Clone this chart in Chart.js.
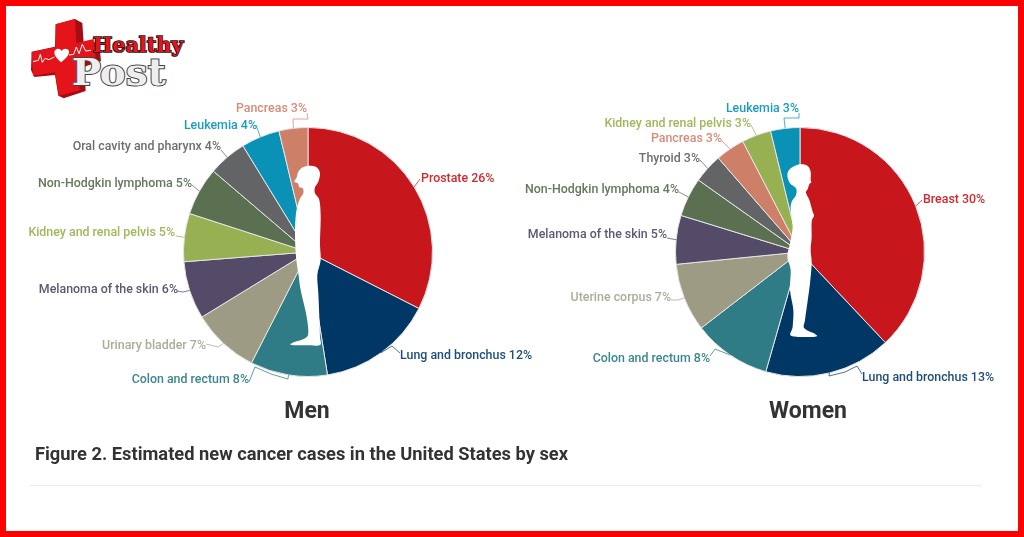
<!DOCTYPE html>
<html>
<head>
<meta charset="utf-8">
<title>Estimated new cancer cases</title>
<script src="https://cdn.jsdelivr.net/npm/chart.js@4/dist/chart.umd.min.js"></script>
<style>
  html, body { margin: 0; padding: 0; background: #fff; }
  #page { position: relative; width: 1024px; height: 537px; overflow: hidden; background: #fff; font-family: Roboto, sans-serif; }
  #frame { position: absolute; inset: 0; border: 6px solid #ff0000; box-sizing: border-box; pointer-events: none; }
  canvas { position: absolute; top: 0; }
  #menChart { left: 0; }
  #womenChart { left: 520px; }
  .sex { position: absolute; top: 397px; font-weight: 700; font-size: 23px; color: #333; transform: translateX(-50%); }
  #caption { position: absolute; left: 35px; top: 443px; font-weight: 700; font-size: 18.3px; color: #333; white-space: nowrap; }
  #rule { position: absolute; left: 30px; top: 485px; width: 952px; height: 1px; background: #ececec; }
  #logo { position: absolute; left: 25px; top: 15px; }
</style>
</head>
<body>
<div id="page">
  <svg id="logo" width="165" height="85" viewBox="0 0 495 255">
    <polygon fill="#a50d12" points="92,28 150,12 172,24 176,85 222,80 228,138 178,155 182,228 116,250 100,242 90,180 28,186 18,165 20,110 90,95"/>
    <polygon fill="#e5141b" points="92,28 150,12 154,84 206,72 212,130 158,146 164,226 102,242 90,172 24,182 20,112 92,96"/>
    <polyline fill="none" stroke="#fff" stroke-width="3" points="24,140 40,136 46,118 52,142 60,130 72,134 88,126"/>
    <path fill="#fff" d="M108,142 C92,128 84,116 90,106 C96,98 106,100 110,108 C116,98 128,100 132,108 C134,118 122,132 108,142 Z"/>
    <polyline fill="none" stroke="#fff" stroke-width="3" points="132,120 146,118 154,96 162,116 172,88 182,108 198,106"/>
    <text x="203" y="111" font-family="DejaVu Serif" font-weight="700" font-size="62" fill="#e5141b" stroke="#111" stroke-width="5" paint-order="stroke" textLength="272" lengthAdjust="spacingAndGlyphs">Healthy</text>
    <text x="140" y="210" font-family="DejaVu Serif" font-weight="700" font-size="112" fill="#eeeeee" stroke="#444" stroke-width="6" paint-order="stroke" textLength="282" lengthAdjust="spacingAndGlyphs">Post</text>
  </svg>
  <canvas id="menChart" width="540" height="537"></canvas>
  <canvas id="womenChart" width="504" height="537"></canvas>
  <div class="sex" style="left:307px">Men</div>
  <div class="sex" style="left:808px">Women</div>
  <div id="caption">Figure 2. Estimated new cancer cases in the United States by sex</div>
  <div id="rule"></div>
  <div id="frame"></div>
</div>
<script>
// Men: share of estimated new cases, in percent
const menCategories = ['Prostate', 'Lung and bronchus', 'Colon and rectum', 'Urinary bladder', 'Melanoma of the skin',
  'Kidney and renal pelvis', 'Non-Hodgkin lymphoma', 'Oral cavity and pharynx', 'Leukemia', 'Pancreas'];
const menValues = [26, 12, 8, 7, 6, 5, 5, 4, 4, 3];

// Women: share of estimated new cases, in percent
const womenCategories = ['Breast', 'Lung and bronchus', 'Colon and rectum', 'Uterine corpus', 'Melanoma of the skin',
  'Non-Hodgkin lymphoma', 'Thyroid', 'Pancreas', 'Kidney and renal pelvis', 'Leukemia'];
const womenValues = [30, 13, 8, 7, 5, 4, 3, 3, 3, 3];

// One colour per cancer type, slice and label text
const sliceColors = {
  'Prostate': '#c8161d', 'Breast': '#c8161d', 'Lung and bronchus': '#003764', 'Colon and rectum': '#2f7c87',
  'Urinary bladder': '#9e9b84', 'Uterine corpus': '#9e9b84', 'Melanoma of the skin': '#544b68',
  'Kidney and renal pelvis': '#97b052', 'Non-Hodgkin lymphoma': '#5a7050', 'Oral cavity and pharynx': '#626466',
  'Thyroid': '#626466', 'Leukemia': '#0a92b6', 'Pancreas': '#ce7f68'
};
const textColors = {
  'Prostate': '#d02a30', 'Breast': '#d02a30', 'Lung and bronchus': '#1f4d7a', 'Colon and rectum': '#3a8791',
  'Urinary bladder': '#aeac98', 'Uterine corpus': '#aeac98', 'Melanoma of the skin': '#5f5774',
  'Kidney and renal pelvis': '#a0b85c', 'Non-Hodgkin lymphoma': '#64795a', 'Oral cavity and pharynx': '#6c6e70',
  'Thyroid': '#6c6e70', 'Leukemia': '#1c9cc0', 'Pancreas': '#d68d78'
};

// Where each label sits on the page: [x, y, align], then the bends of its leader line
const menLabelSpots = [
  [421, 178, 'left'], [400, 355, 'left'], [249, 379, 'right'], [206, 345, 'right'], [178, 289, 'right'],
  [175, 232, 'right'], [192, 183, 'right'], [221, 146, 'right'], [257, 125, 'right'], [307, 108, 'right']
];
const menLeaderBends = [
  [[420, 179]], [[400, 353], [392, 346]], [[249, 382], [255, 367], [271, 374], [288, 379]], [[206, 344], [218, 347]],
  [[177, 291], [183, 292]], [[176, 236]], [[192, 185]], [[221, 150]], [[256, 125]], [[307, 113], [308, 119], [293, 119]]
];
const womenLabelSpots = [
  [923, 199, 'left'], [862, 377, 'left'], [710, 358, 'right'], [671, 297, 'right'], [667, 234, 'right'],
  [679, 189, 'right'], [700, 158, 'right'], [722, 138, 'right'], [751, 123, 'right'], [799, 108, 'right']
];
const womenLeaderBends = [
  [[922, 200]], [[862, 374], [857, 366], [845, 372], [829, 376]], [[710, 356], [715, 349]], [[671, 300], [678, 300]],
  [[667, 238]], [[679, 192]], [[700, 160]], [[722, 141]], [[751, 125]], [[799, 113], [799, 118], [784, 118]]
];

// Standing figures laid over the middle of each pie
const menFigure = [[118, 47], [140, 52], [150, 70], [145, 95], [135, 112], [135, 130], [148, 150], [152, 200], [150, 280],
  [152, 330], [142, 375], [145, 430], [148, 500], [150, 560], [150, 585], [110, 586], [65, 585], [68, 578], [105, 565],
  [115, 545], [108, 490], [92, 420], [85, 370], [78, 320], [75, 250], [78, 190], [88, 150], [100, 130], [98, 115],
  [88, 112], [84, 100], [73, 95], [80, 82], [85, 65], [98, 52]];
const womenFigure = [[90, 43], [112, 47], [122, 65], [122, 90], [124, 97], [118, 103], [113, 118], [108, 128], [118, 150],
  [128, 185], [132, 197], [125, 215], [125, 260], [122, 300], [125, 340], [120, 400], [112, 460], [105, 510], [103, 535],
  [135, 552], [135, 560], [65, 558], [68, 530], [70, 480], [60, 420], [62, 360], [52, 320], [60, 280], [68, 230],
  [62, 180], [65, 155], [78, 135], [78, 115], [60, 100], [52, 75], [62, 55]];

// Closed smooth curve through every point of the outline
function drawFigure(ctx, arc, figure, originX) {
  const n = figure.length;
  ctx.save();
  ctx.translate(arc.x - originX, arc.y - 102);
  ctx.scale(1 / 3, 1 / 3);
  ctx.fillStyle = '#fff';
  ctx.beginPath();
  ctx.moveTo(figure[0][0], figure[0][1]);
  figure.forEach((p, i) => {
    const before = figure[(i - 1 + n) % n];
    const next = figure[(i + 1) % n];
    const after = figure[(i + 2) % n];
    ctx.bezierCurveTo(
      p[0] + (next[0] - before[0]) / 6, p[1] + (next[1] - before[1]) / 6,
      next[0] - (after[0] - p[0]) / 6, next[1] - (after[1] - p[1]) / 6,
      next[0], next[1]
    );
  });
  ctx.closePath();
  ctx.fill();
  ctx.restore();
}

// Labels, leader lines and the figure, drawn once the slices are on the canvas
const pieLabels = {
  id: 'pieLabels',
  afterDatasetsDraw(chart, args, opts) {
    const ctx = chart.ctx;
    const shift = chart.canvas.offsetLeft;
    const arcs = chart.getDatasetMeta(0).data;
    drawFigure(ctx, arcs[0], opts.figure, opts.figureOriginX);

    ctx.save();
    ctx.font = '500 12.4px Roboto';
    ctx.textBaseline = 'middle';
    arcs.forEach((arc, i) => {
      const name = chart.data.labels[i];
      const spot = opts.spots[i];
      const mid = (arc.startAngle + arc.endAngle) / 2;

      ctx.strokeStyle = textColors[name];
      ctx.lineWidth = 0.8;
      ctx.beginPath();
      opts.bends[i].forEach((p, j) => {
        if (j === 0) ctx.moveTo(p[0] - shift, p[1]);
        else ctx.lineTo(p[0] - shift, p[1]);
      });
      ctx.lineTo(arc.x + Math.cos(mid) * arc.outerRadius, arc.y + Math.sin(mid) * arc.outerRadius);
      ctx.stroke();

      ctx.fillStyle = textColors[name];
      ctx.textAlign = spot[2];
      ctx.fillText(name + ' ' + chart.data.datasets[0].data[i] + '%', spot[0] - shift, spot[1] + 1);
    });
    ctx.restore();
  }
};

function makePie(id, categories, values, padding, spots, bends, figure, figureOriginX) {
  return new Chart(document.getElementById(id), {
    type: 'pie',
    data: {
      labels: categories,
      datasets: [{
        data: values,
        backgroundColor: categories.map((c) => sliceColors[c]),
        borderColor: '#e4e4e4',
        borderWidth: 1
      }]
    },
    options: {
      responsive: false,
      animation: false,
      layout: { padding: padding },
      plugins: {
        legend: { display: false },
        tooltip: { enabled: false },
        pieLabels: { spots: spots, bends: bends, figure: figure, figureOriginX: figureOriginX }
      }
    },
    plugins: [pieLabels]
  });
}

makePie('menChart', menCategories, menValues, { left: 183, right: 107, top: 127, bottom: 160 },
  menLabelSpots, menLeaderBends, menFigure, 38);
makePie('womenChart', womenCategories, womenValues, { left: 155, right: 99, top: 127, bottom: 160 },
  womenLabelSpots, womenLeaderBends, womenFigure, 30);
</script>
</body>
</html>
